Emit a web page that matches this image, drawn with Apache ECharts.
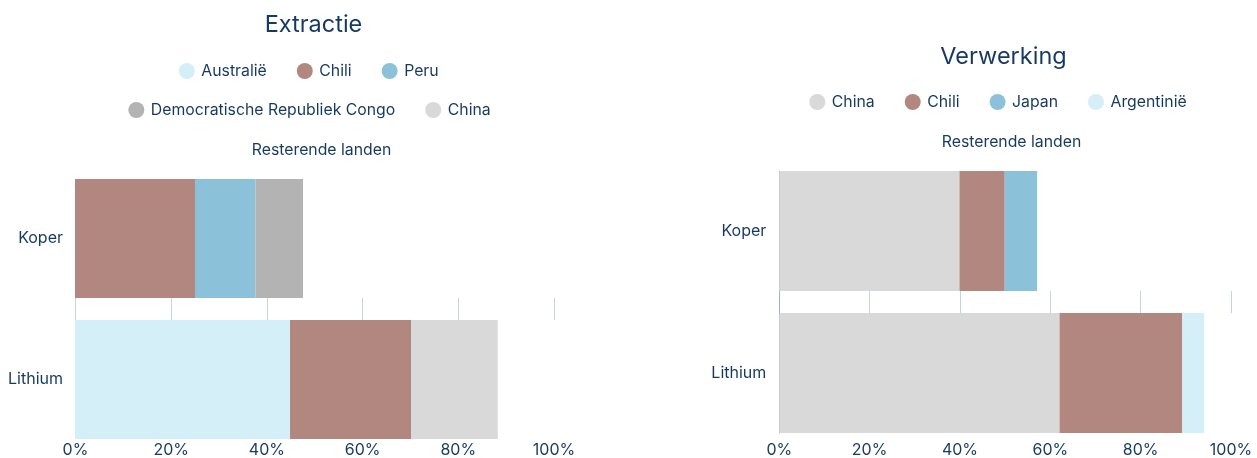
<!DOCTYPE html>
<html>
<head>
<meta charset="utf-8">
<script src="https://cdn.jsdelivr.net/npm/echarts@6/dist/echarts.min.js"></script>
<style>
html,body{margin:0;padding:0;background:#fff;}
#c{width:1257px;height:458px;}
</style>
</head>
<body>
<div id="c"></div>
<script>
// ---- Data ----
const categories = ['Koper', 'Lithium'];

// Extractie (percent of world production)
const extAustralie = [0, 44.8];
const extChili = [25.0, 25.2];
const extPeru = [12.6, 0];
const extCongo = [9.9, 0];
const extChina = [0, 18.1];
const extRest = [52.5, 11.9];

// Verwerking
const verChina = [39.8, 61.9];
const verChili = [10.0, 27.1];
const verJapan = [7.2, 0];
const verArgentinie = [0, 4.9];
const verRest = [43.0, 6.1];

// Legend rows
const extLegendRows = [['Australië', 'Chili', 'Peru'], ['Democratische Republiek Congo', 'China'], ['Resterende landen']];
const verLegendRows = [['China', 'Chili', 'Japan', 'Argentinië'], ['Resterende landen']];

// ---- Styles ----
const NAVY = '#163a5f';
const FONT = 'Inter';
const C_CHILI = '#b2877f';
const C_PERU = '#8bc2d9';
const C_CONGO = '#b3b3b3';
const C_CHINA = '#d9d9d9';
const C_LIGHT = '#d4eff8';
const C_REST = '#ffffff';
const GRIDLINE = '#c8d4de';
const LEG_FS = 15.8, LEG_IW = 19, LEG_IH = 16, LEG_GAP = 30;
const TITLE_FS = 23.5;
const W = 1257;

const mctx = document.createElement('canvas').getContext('2d');
function textW(t, fs) { mctx.font = 'normal normal ' + fs + 'px ' + FONT; return mctx.measureText(t).width; }
function legendWidth(names) {
  let w = 0;
  names.forEach((n, i) => { w += LEG_IW + 5 + textW(n, LEG_FS) + (i ? LEG_GAP : 0); });
  return w;
}

function bar(name, data, color, gridIdx) {
  return {
    name: name, type: 'bar', stack: 'total' + gridIdx,
    xAxisIndex: gridIdx, yAxisIndex: gridIdx,
    barCategoryGap: '15.6%',
    data: data, itemStyle: { color: color },
    emphasis: { disabled: true }
  };
}

function legend(names, top, center) {
  return {
    data: names, top: top, left: center - legendWidth(names) / 2,
    padding: 0,
    icon: 'circle', itemWidth: LEG_IW, itemHeight: LEG_IH, itemGap: LEG_GAP,
    textStyle: { fontFamily: FONT, fontSize: LEG_FS, color: NAVY, lineHeight: 16 },
    selectedMode: false
  };
}
function title(text, top, center) {
  return { text: text, top: top, left: center - textW(text, TITLE_FS) / 2, padding: 0,
    textStyle: { fontFamily: FONT, fontSize: TITLE_FS, fontWeight: 'normal', color: NAVY } };
}

const chart = echarts.init(document.getElementById('c'), null, { renderer: 'canvas' });

const option = {
  animation: false,
  backgroundColor: '#fff',
  title: [ title('Extractie', 13, 313.5), title('Verwerking', 45, 1003.5) ],
  legend: [
    legend(extLegendRows[0], 63, 311),
    legend(extLegendRows[1], 102, 311),
    legend(extLegendRows[2], 142, 311),
    legend(verLegendRows[0], 94, 1001),
    legend(verLegendRows[1], 134, 1001)
  ],
  grid: [
    // series grids (bars)
    { left: 75, right: W - 555, top: 168, bottom: 8 },
    { left: 779.3, right: W - 1232, top: 160, bottom: 14 },
    // decoration grids (gridlines, labels) at the exact bar extents
    { left: 75.5, right: W - 554, top: 179, bottom: 458 - 439 },
    { left: 779.3, right: W - 1231, top: 171, bottom: 458 - 433 }
  ],
  xAxis: [
    { gridIndex: 0, type: 'value', min: 0, max: 100, show: false },
    { gridIndex: 1, type: 'value', min: 0, max: 100, show: false },
    { gridIndex: 2, type: 'value', min: 0, max: 100, interval: 20,
      axisLine: { show: false }, axisTick: { show: false },
      splitLine: { show: true, lineStyle: { color: GRIDLINE, width: 1 } },
      axisLabel: { formatter: '{value}%', fontFamily: FONT, fontSize: 16, color: NAVY, margin: 6 } },
    { gridIndex: 3, type: 'value', min: 0, max: 100, interval: 20,
      axisLine: { show: false }, axisTick: { show: false },
      splitLine: { show: true, lineStyle: { color: GRIDLINE, width: 1 } },
      axisLabel: { formatter: '{value}%', fontFamily: FONT, fontSize: 16, color: NAVY, margin: 9 } }
  ],
  yAxis: [
    { gridIndex: 0, type: 'category', data: categories, inverse: true,
      axisLine: { show: false }, axisTick: { show: false },
      axisLabel: { fontFamily: FONT, fontSize: 16, color: NAVY, margin: 12 } },
    { gridIndex: 1, type: 'category', data: categories, inverse: true,
      axisLine: { show: false }, axisTick: { show: false },
      axisLabel: { fontFamily: FONT, fontSize: 16, color: NAVY, margin: 13 } },
    { gridIndex: 2, type: 'category', data: categories, inverse: true,
      axisLine: { show: false }, axisTick: { show: false }, axisLabel: { show: false } },
    { gridIndex: 3, type: 'category', data: categories, inverse: true, offset: 1,
      axisLine: { show: true, lineStyle: { color: '#9fb3c4', width: 1 } },
      axisTick: { show: false }, axisLabel: { show: false } }
  ],
  series: [
    bar('Australië', extAustralie, C_LIGHT, 0),
    bar('Chili', extChili, C_CHILI, 0),
    bar('Peru', extPeru, C_PERU, 0),
    bar('Democratische Republiek Congo', extCongo, C_CONGO, 0),
    bar('China', extChina, C_CHINA, 0),
    bar('Resterende landen', extRest, C_REST, 0),

    bar('China', verChina, C_CHINA, 1),
    bar('Chili', verChili, C_CHILI, 1),
    bar('Japan', verJapan, C_PERU, 1),
    bar('Argentinië', verArgentinie, C_LIGHT, 1),
    bar('Resterende landen', verRest, C_REST, 1)
  ]
};

chart.setOption(option);
</script>
</body>
</html>
